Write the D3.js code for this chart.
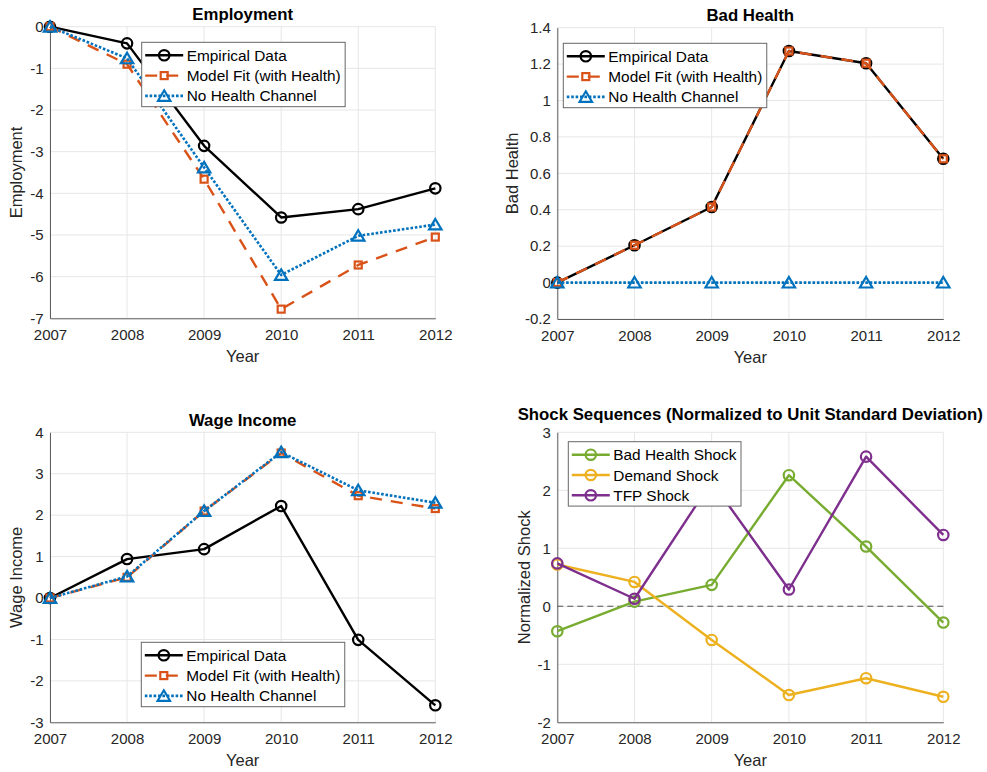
<!DOCTYPE html>
<html>
<head>
<meta charset="utf-8">
<script src="https://cdn.jsdelivr.net/npm/d3@7"></script>
<style>
  body { margin: 0; background: #fff; }
  svg { display: block; font-family: "Liberation Sans", Arial, Helvetica, sans-serif; }
</style>
</head>
<body>
<svg id="fig" width="987" height="772"></svg>
<script>
// ---- data -------------------------------------------------------------
const years = [2007, 2008, 2009, 2010, 2011, 2012];

const empEmpirical = [0, -0.40, -2.86, -4.58, -4.38, -3.88];
const empModel     = [0, -0.90, -3.66, -6.78, -5.72, -5.05];
const empNoHealth  = [0, -0.76, -3.38, -5.96, -5.02, -4.75];

const healthEmpirical = [0, 0.205, 0.415, 1.272, 1.205, 0.68];
const healthModel     = [0, 0.205, 0.415, 1.272, 1.205, 0.68];
const healthNoHealth  = [0, 0, 0, 0, 0, 0];

const wageEmpirical = [0, 0.94, 1.18, 2.22, -1.01, -2.59];
const wageModel     = [0, 0.50, 2.10, 3.50, 2.47, 2.16];
const wageNoHealth  = [0, 0.52, 2.10, 3.52, 2.60, 2.30];

const shockBadHealth = [-0.43, 0.08, 0.37, 2.26, 1.03, -0.28];
const shockDemand    = [0.72, 0.42, -0.58, -1.53, -1.24, -1.56];
const shockTFP       = [0.74, 0.13, 2.15, 0.29, 2.58, 1.23];

const fitLabels   = ["Empirical Data", "Model Fit (with Health)", "No Health Channel"];
const shockLabels = ["Bad Health Shock", "Demand Shock", "TFP Shock"];

const empTicks    = [-7, -6, -5, -4, -3, -2, -1, 0];
const healthTicks = [-0.2, 0, 0.2, 0.4, 0.6, 0.8, 1, 1.2, 1.4];
const wageTicks   = [-3, -2, -1, 0, 1, 2, 3, 4];
const shockTicks  = [-2, -1, 0, 1, 2, 3];

// ---- styles -----------------------------------------------------------
const C = {
  black: "#000000", orange: "#D95319", blue: "#0072BD",
  green: "#77AC30", yellow: "#EDB120", purple: "#7E2F8E"
};
const LW = 2.4;
const fitStyles = [
  { color: C.black,  dash: null,      width: LW,  marker: "circle" },
  { color: C.orange, dash: "12,9",    width: LW,  marker: "square" },
  { color: C.blue,   dash: "2.6,1.8", width: 2.6, marker: "triangle" }
];
const shockStyles = [
  { color: C.green,  dash: null, width: LW, marker: "circle" },
  { color: C.yellow, dash: null, width: LW, marker: "circle" },
  { color: C.purple, dash: null, width: LW, marker: "circle" }
];

const svg = d3.select("#fig");
const fmt = d => String(+(+d).toFixed(1));

function addMarker(sel, type, color) {
  if (type === "circle") {
    sel.append("circle").attr("r", 5.2);
  } else if (type === "square") {
    sel.append("rect").attr("x", -3.5).attr("y", -3.5).attr("width", 7).attr("height", 7);
  } else {
    sel.append("path").attr("d", "M0,-5.6L6.2,4.9L-6.2,4.9Z");
  }
  sel.selectAll("circle,rect,path")
    .attr("fill", "none").attr("stroke", color)
    .attr("stroke-width", 2.2).attr("stroke-linejoin", "miter");
}

function panel(cfg) {
  const x = d3.scaleLinear().domain([2007, 2012]).range([cfg.left, cfg.right]);
  const y = d3.scaleLinear().domain(cfg.yDomain).range([cfg.bottom, cfg.top]);
  const g = svg.append("g");

  // grid
  const grid = g.append("g").attr("stroke", "#e6e6e6").attr("stroke-width", 1);
  grid.selectAll("line.h").data(cfg.yTicks).join("line").attr("class", "h")
    .attr("x1", cfg.left).attr("x2", cfg.right)
    .attr("y1", d => y(d)).attr("y2", d => y(d));
  grid.selectAll("line.v").data(years).join("line").attr("class", "v")
    .attr("y1", cfg.top).attr("y2", cfg.bottom)
    .attr("x1", d => x(d)).attr("x2", d => x(d));

  // axes
  const yAxis = d3.axisLeft(y).tickValues(cfg.yTicks).tickFormat(fmt)
    .tickSize(0).tickSizeOuter(0).tickPadding(6.5);
  const xAxis = d3.axisBottom(x).tickValues(years).tickFormat(d3.format("d"))
    .tickSize(0).tickSizeOuter(0).tickPadding(11.2);

  const ya = g.append("g").attr("transform", `translate(${cfg.left},0)`).call(yAxis);
  const xa = g.append("g").attr("transform", `translate(0,${cfg.bottom})`).call(xAxis);
  [ya, xa].forEach(a => {
    a.attr("font-family", null).attr("font-size", 15).attr("color", "#262626");
    a.select(".domain").attr("stroke", "#5e5e5e").attr("stroke-width", 1);
  });

  // labels
  const cx = (cfg.left + cfg.right) / 2;
  g.append("text").attr("x", cx).attr("y", cfg.top - (cfg.titleGap || 6.5))
    .attr("text-anchor", "middle").attr("font-weight", "bold")
    .attr("font-size", 16.8).attr("fill", "#000").text(cfg.title);
  g.append("text").attr("x", cx).attr("y", cfg.bottom + 43.7)
    .attr("text-anchor", "middle").attr("font-size", 16.5).attr("fill", "#262626").text("Year");
  g.append("text")
    .attr("transform", `translate(${cfg.ylabelX},${(cfg.top + cfg.bottom) / 2}) rotate(-90)`)
    .attr("text-anchor", "middle").attr("font-size", 16.5).attr("fill", "#262626").text(cfg.ylabel);

  // reference line
  if (cfg.zeroLine) {
    g.append("line").attr("x1", cfg.left).attr("x2", cfg.right)
      .attr("y1", y(0)).attr("y2", y(0))
      .attr("stroke", "#555").attr("stroke-width", 1.1).attr("stroke-dasharray", "6,4");
  }

  // series
  const line = d3.line().x((d, i) => x(years[i])).y(d => y(d));
  cfg.series.forEach((vals, k) => {
    const st = cfg.styles[k];
    const sg = g.append("g");
    sg.append("path").attr("d", line(vals)).attr("fill", "none")
      .attr("stroke", st.color).attr("stroke-width", st.width)
      .attr("stroke-dasharray", st.dash).attr("stroke-linejoin", "round");
    sg.selectAll("g.m").data(vals).join("g").attr("class", "m")
      .attr("transform", (d, i) => `translate(${x(years[i])},${y(d)})`)
      .each(function () { addMarker(d3.select(this), st.marker, st.color); });
  });

  // legend
  const lg = g.append("g").attr("transform", `translate(${cfg.legend[0]},${cfg.legend[1]})`);
  const box = lg.append("rect").attr("fill", "#fff").attr("stroke", "#666").attr("stroke-width", 1);
  let maxW = 0;
  cfg.labels.forEach((lab, k) => {
    const st = cfg.styles[k];
    const ry = 13 + k * 20.3;
    lg.append("line").attr("x1", 3.5).attr("x2", 41.5).attr("y1", ry).attr("y2", ry)
      .attr("stroke", st.color).attr("stroke-width", st.width).attr("stroke-dasharray", st.dash);
    const mg = lg.append("g").attr("transform", `translate(22.5,${ry})`);
    addMarker(mg, st.marker, st.color);
    const t = lg.append("text").attr("x", 45).attr("y", ry).attr("dy", "0.36em")
      .attr("font-size", 15.4).attr("fill", "#000").text(lab);
    maxW = Math.max(maxW, t.node().getComputedTextLength());
  });
  box.attr("x", 0).attr("y", 0).attr("width", 45 + maxW + 4.5).attr("height", 64.4);
}

panel({
  title: "Employment", ylabel: "Employment", ylabelX: 21.5,
  left: 50, right: 435.3, top: 26.7, bottom: 318.3,
  yDomain: [-7, 0], yTicks: empTicks,
  series: [empEmpirical, empModel, empNoHealth], styles: fitStyles,
  labels: fitLabels, legend: [141.7, 42.3]
});
panel({
  title: "Bad Health", ylabel: "Bad Health", ylabelX: 517.5,
  left: 557.3, right: 943.3, top: 27.7, bottom: 319,
  yDomain: [-0.2, 1.4], yTicks: healthTicks,
  series: [healthEmpirical, healthModel, healthNoHealth], styles: fitStyles,
  labels: fitLabels, legend: [563.3, 43.3]
});
panel({
  title: "Wage Income", ylabel: "Wage Income", ylabelX: 21.5,
  left: 50, right: 435.3, top: 432.3, bottom: 722.3,
  yDomain: [-3, 4], yTicks: wageTicks,
  series: [wageEmpirical, wageModel, wageNoHealth], styles: fitStyles,
  labels: fitLabels, legend: [141.3, 642.3]
});
panel({
  title: "Shock Sequences (Normalized to Unit Standard Deviation)", titleGap: 12.8,
  ylabel: "Normalized Shock", ylabelX: 529.5,
  left: 557.3, right: 943.3, top: 432.3, bottom: 722.3,
  yDomain: [-2, 3], yTicks: shockTicks, zeroLine: true,
  series: [shockBadHealth, shockDemand, shockTFP], styles: shockStyles,
  labels: shockLabels, legend: [568.3, 441.7]
});
</script>
</body>
</html>
